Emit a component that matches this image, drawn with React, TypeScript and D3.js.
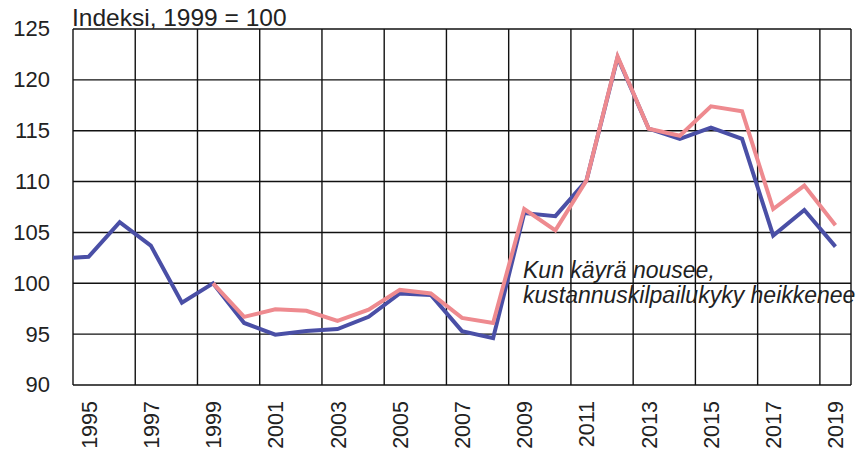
import React, { useRef, useEffect } from 'react';
import * as d3 from 'd3';

const width = 863;
const height = 454;

// vuodet ja indeksit (1999 = 100)
const blueYears = [1994, 1995, 1996, 1997, 1998, 1999, 2000, 2001, 2002, 2003, 2004, 2005, 2006,
  2007, 2008, 2009, 2010, 2011, 2012, 2013, 2014, 2015, 2016, 2017, 2018, 2019];
const blueValues = [102.4, 102.6, 106.0, 103.7, 98.1, 100, 96.1, 94.95, 95.3, 95.5, 96.7, 99.0, 98.85,
  95.3, 94.6, 106.9, 106.6, 110.1, 122.2, 115.2, 114.2, 115.3, 114.2, 104.7, 107.2, 103.6];

const pinkYears = [1999, 2000, 2001, 2002, 2003, 2004, 2005, 2006, 2007, 2008, 2009, 2010, 2011,
  2012, 2013, 2014, 2015, 2016, 2017, 2018, 2019];
const pinkValues = [100, 96.7, 97.45, 97.3, 96.3, 97.4, 99.35, 99.0, 96.6, 96.1, 107.3, 105.2, 110.1,
  122.3, 115.2, 114.5, 117.4, 116.9, 107.3, 109.6, 105.7];

const yTicks = [90, 95, 100, 105, 110, 115, 120, 125];
const xLabels = [1995, 1997, 1999, 2001, 2003, 2005, 2007, 2009, 2011, 2013, 2015, 2017, 2019];

const font = '"Liberation Sans", Arial, sans-serif';

const App = () => {
  const svgRef = useRef<SVGSVGElement>(null);

  useEffect(() => {
    const svg = d3.select(svgRef.current);
    svg.selectAll('*').remove();

    const x = d3.scaleLinear().domain([1994.5, 2019.5]).range([73, 851]);
    const y = d3.scaleLinear().domain([90, 125]).range([385, 29]);

    svg.append('defs').append('clipPath').attr('id', 'plot')
      .append('rect')
      .attr('x', x(1994.5)).attr('y', 0)
      .attr('width', x(2019.5) - x(1994.5)).attr('height', height);

    // vaakaviivat
    svg.append('g').selectAll('line').data(yTicks).enter().append('line')
      .attr('x1', x(1994.5)).attr('x2', x(2019.5))
      .attr('y1', d => y(d)).attr('y2', d => y(d))
      .attr('stroke', '#111').attr('stroke-width', 1.4);

    // pystyviivat joka toinen vuosi + reuna
    const vLines = d3.range(1994.5, 2019, 2).concat([2019.5]);
    svg.append('g').selectAll('line').data(vLines).enter().append('line')
      .attr('x1', d => x(d)).attr('x2', d => x(d))
      .attr('y1', y(125)).attr('y2', y(90))
      .attr('stroke', '#111').attr('stroke-width', 1.4);

    svg.append('g').selectAll('text').data(yTicks).enter().append('text')
      .attr('x', 50).attr('y', d => y(d))
      .attr('dy', '0.34em')
      .attr('text-anchor', 'end')
      .style('font-family', font).style('font-size', '22px').attr('fill', '#222')
      .text(d => d);

    svg.append('g').selectAll('text').data(xLabels).enter().append('text')
      .attr('transform', d => `translate(${x(d) + 8},401) rotate(-90)`)
      .attr('text-anchor', 'end')
      .style('font-family', font).style('font-size', '21.5px').attr('fill', '#222')
      .text(d => d);

    svg.append('text')
      .attr('x', 72).attr('y', 26)
      .style('font-family', font).style('font-size', '24.5px').attr('fill', '#222')
      .text('Indeksi, 1999 = 100');

    const line = d3.line<[number, number]>().x(d => x(d[0])).y(d => y(d[1]));

    const g = svg.append('g').attr('clip-path', 'url(#plot)');
    g.append('path')
      .attr('d', line(blueYears.map((yr, i) => [yr, blueValues[i]] as [number, number])))
      .attr('fill', 'none').attr('stroke', '#4a4fa6').attr('stroke-width', 4)
      .attr('stroke-linejoin', 'miter');
    g.append('path')
      .attr('d', line(pinkYears.map((yr, i) => [yr, pinkValues[i]] as [number, number])))
      .attr('fill', 'none').attr('stroke', '#ee8a8f').attr('stroke-width', 4)
      .attr('stroke-linejoin', 'miter');

    const note = svg.append('text')
      .style('font-family', font).style('font-size', '23px').style('font-style', 'italic')
      .attr('fill', '#222');
    note.append('tspan').attr('x', 523).attr('y', 278).text('Kun käyrä nousee,');
    note.append('tspan').attr('x', 523).attr('y', 303).text('kustannuskilpailukyky heikkenee');
  }, []);

  return (
    <svg ref={svgRef} width={width} height={height}
      style={{ position: 'absolute', left: 0, top: 0, background: '#fff' }} />
  );
};

export default App;
